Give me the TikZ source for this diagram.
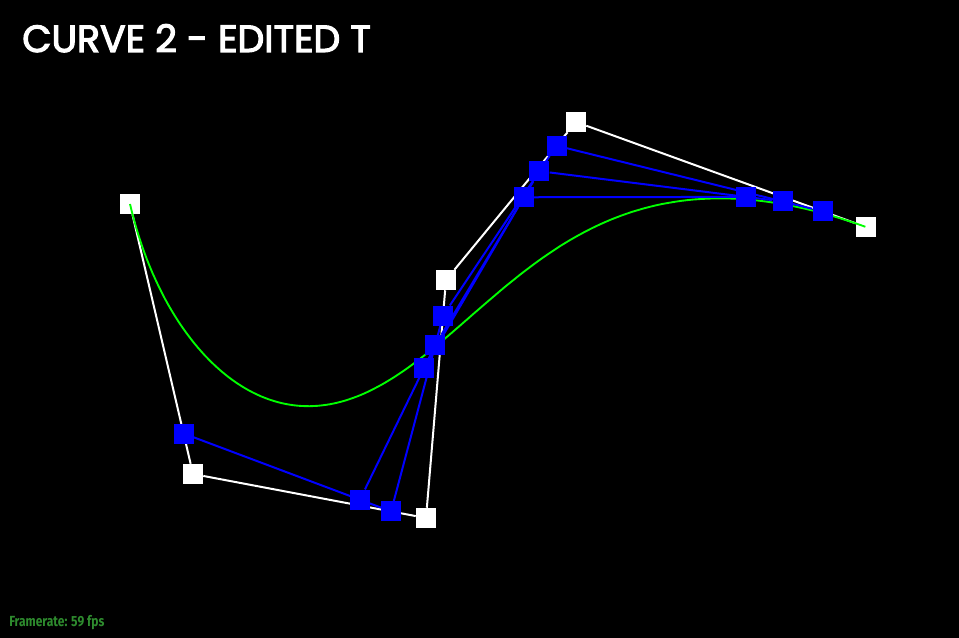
\documentclass[tikz,border=0pt]{standalone}
\usepackage{fontspec}
\newfontfamily\titlefont[FakeBold=3]{Poppins}
\newfontfamily\fpsfont[FakeStretch=0.82]{Fira Sans}
\usetikzlibrary{calc}
\definecolor{curvegreen}{RGB}{0,255,0}
\definecolor{fpsgreen}{RGB}{46,139,46}

\begin{document}
\begin{tikzpicture}[
  x=0.75pt, y=-0.75pt,
  ctrl/.style={fill=white, minimum size=15pt, inner sep=0pt},
  sub/.style={fill=blue, minimum size=15pt, inner sep=0pt},
  hull/.style={white, line width=1.5pt},
  lvl/.style={blue, line width=1.5pt},
  bez/.style={curvegreen, line width=1.4pt}
]
\fill[black] (0,0) rectangle (959,638);
\useasboundingbox (0,0) rectangle (959,638);
\def\tsplit{0.85}

\node[anchor=base west, inner sep=0pt, text=white, font=\titlefont\fontsize{28.4}{30}\selectfont] (title) at (22,52) {CURVE 2 - EDITED T};
\node[anchor=base west, inner sep=0pt, text=fpsgreen, font=\fpsfont\bfseries\fontsize{11}{12}\selectfont] (fps) at (9,626) {Framerate: 59 fps};

% control points
\node[ctrl] (p0) at (130,204) {};
\node[ctrl] (p1) at (193,474) {};
\node[ctrl] (p2) at (426,518) {};
\node[ctrl] (p3) at (446,280) {};
\node[ctrl] (p4) at (576,122) {};
\node[ctrl] (p5) at (866,227) {};
\draw[hull] (p0) -- (p1) -- (p2) -- (p3) -- (p4) -- (p5);

% curve
\draw[bez] plot[variable=\t, domain=0:1, samples=160]
  ({130*(1-\t)^5 + 5*193*\t*(1-\t)^4 + 10*426*\t^2*(1-\t)^3 + 10*446*\t^3*(1-\t)^2 + 5*576*\t^4*(1-\t) + 866*\t^5},
   {204*(1-\t)^5 + 5*474*\t*(1-\t)^4 + 10*518*\t^2*(1-\t)^3 + 10*280*\t^3*(1-\t)^2 + 5*122*\t^4*(1-\t) + 227*\t^5});

% de Casteljau levels
\node[sub] (a0) at ($(p0)!\tsplit!(p1)$) {};
\node[sub] (a1) at ($(p1)!\tsplit!(p2)$) {};
\node[sub] (a2) at ($(p2)!\tsplit!(p3)$) {};
\node[sub] (a3) at ($(p3)!\tsplit!(p4)$) {};
\node[sub] (a4) at ($(p4)!\tsplit!(p5)$) {};
\node[sub] (b0) at ($(a0)!\tsplit!(a1)$) {};
\node[sub] (b1) at ($(a1)!\tsplit!(a2)$) {};
\node[sub] (b2) at ($(a2)!\tsplit!(a3)$) {};
\node[sub] (b3) at ($(a3)!\tsplit!(a4)$) {};
\node[sub] (c0) at ($(b0)!\tsplit!(b1)$) {};
\node[sub] (c1) at ($(b1)!\tsplit!(b2)$) {};
\node[sub] (c2) at ($(b2)!\tsplit!(b3)$) {};
\draw[lvl] (a0) -- (a1) -- (a2) -- (a3) -- (a4);
\draw[lvl] (b0) -- (b1) -- (b2) -- (b3);
\draw[lvl] (c0) -- (c1) -- (c2);
\end{tikzpicture}
\end{document}
